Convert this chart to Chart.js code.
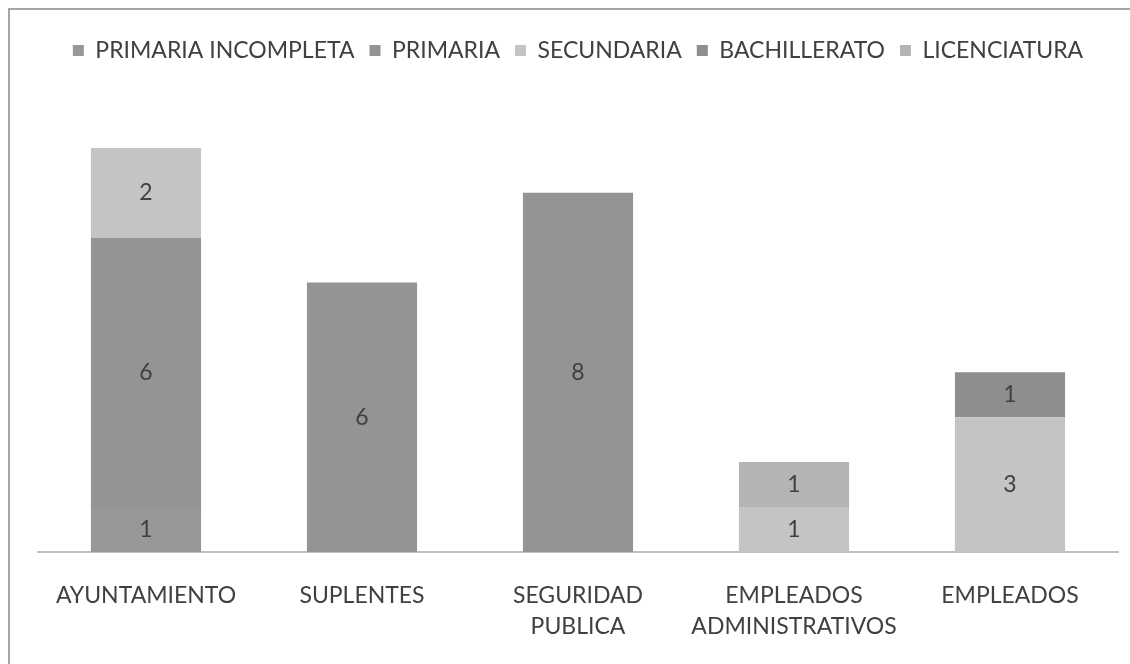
<!DOCTYPE html>
<html>
<head>
<meta charset="utf-8">
<script src="https://cdn.jsdelivr.net/npm/chart.js@4.4.1/dist/chart.umd.min.js"></script>
<style>
    html, body { margin: 0; padding: 0; background: #fff; }
    #wrap { position: absolute; left: 0; top: 0; width: 1130px; height: 664px; }
    #frame { position: absolute; left: 8px; top: 8px; width: 1200px; height: 700px;
             border-left: 2px solid #a6a6a6; border-top: 2px solid #a6a6a6; }
</style>
</head>
<body>
<div id="wrap">
    <div id="frame"></div>
    <canvas id="eduChart" width="1130" height="664"></canvas>
</div>
<script>
const categories = ['AYUNTAMIENTO', 'SUPLENTES', ['SEGURIDAD', 'PUBLICA'], ['EMPLEADOS', 'ADMINISTRATIVOS'], 'EMPLEADOS'];
const seriesNames = ['PRIMARIA INCOMPLETA', 'PRIMARIA', 'SECUNDARIA', 'BACHILLERATO', 'LICENCIATURA'];
const primariaIncompleta = [1, 0, 0, 0, 0];
const primaria = [6, 6, 8, 0, 0];
const secundaria = [2, 0, 0, 1, 3];
const bachillerato = [0, 0, 0, 0, 1];
const licenciatura = [0, 0, 0, 1, 0];
const seriesColors = ['#989898', '#949494', '#c4c4c4', '#8e8e8e', '#b4b4b4'];

const FONT = 'Lato';
const FSIZE = 23;

// values in the middle of each segment
const segmentLabels = {
    id: 'segmentLabels',
    afterDatasetsDraw(chart) {
        const ctx = chart.ctx;
        ctx.save();
        ctx.font = FSIZE + 'px ' + FONT;
        ctx.fillStyle = '#404040';
        ctx.textAlign = 'center';
        ctx.textBaseline = 'middle';
        chart.data.datasets.forEach((ds, i) => {
            const meta = chart.getDatasetMeta(i);
            meta.data.forEach((bar, j) => {
                const v = ds.data[j];
                if (!v) return;
                ctx.fillText(String(v), bar.x, (bar.y + bar.base) / 2);
            });
        });
        ctx.restore();
    }
};

const legendGap = {
    id: 'legendGap',
    beforeInit(chart) {
        const fit = chart.legend.fit;
        chart.legend.fit = function () {
            fit.bind(chart.legend)();
            this.height += 31;
        };
    }
};

const allSeries = [primariaIncompleta, primaria, secundaria, bachillerato, licenciatura];

new Chart(document.getElementById('eduChart').getContext('2d'), {
    type: 'bar',
    data: {
        labels: categories,
        datasets: allSeries.map((d, i) => ({
            label: seriesNames[i],
            data: d,
            backgroundColor: seriesColors[i],
            borderWidth: 0,
            barPercentage: 1,
            categoryPercentage: 0.51
        }))
    },
    options: {
        responsive: false,
        animation: false,
        layout: { padding: { top: 24, left: 38, right: 12, bottom: -6 } },
        plugins: {
            tooltip: { enabled: false },
            legend: {
                position: 'top',
                labels: {
                    boxWidth: 11,
                    boxHeight: 11,
                    padding: 15,
                    color: '#404040',
                    font: { family: FONT, size: FSIZE }
                }
            }
        },
        scales: {
            x: {
                stacked: true,
                grid: { display: false, drawTicks: false },
                border: { display: true, color: '#bfbfbf', width: 2 },
                ticks: {
                    color: '#404040',
                    padding: 28,
                    maxRotation: 0,
                    autoSkip: false,
                    font: { family: FONT, size: FSIZE, lineHeight: 1.35 }
                }
            },
            y: {
                stacked: true,
                display: false,
                min: 0,
                max: 10
            }
        }
    },
    plugins: [segmentLabels, legendGap]
});
</script>
</body>
</html>
